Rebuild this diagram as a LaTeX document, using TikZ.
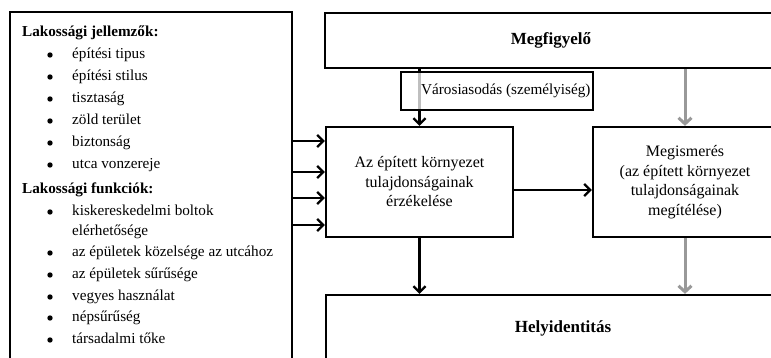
\documentclass[tikz,border=0pt]{standalone}
\usepackage{fontspec}
\setmainfont{Liberation Serif}
\usetikzlibrary{arrows.meta}
\tikzstyle{box}=[draw, line width=2.3pt, inner sep=0pt, align=center, font=\fontsize{16}{19.5}\selectfont]
\tikzstyle{title}=[font=\fontsize{17}{20}\selectfont\bfseries]
\tikzstyle{item}=[anchor=west, inner sep=0pt, text height=10pt, text depth=3pt, font=\fontsize{15.2}{18}\selectfont]
\tikzstyle{flow}=[line width=2.3pt, -{Straight Barb[length=6pt, width=12pt]}]
\tikzstyle{grey flow}=[line width=3pt, draw=black!40, -{Straight Barb[length=6pt, width=13pt]}]

\begin{document}
\begin{tikzpicture}[x=1pt, y=-1pt]
      \useasboundingbox (0, 0) rectangle (771, 358);
      \clip (0, 0) rectangle (771, 358);
      % left panel
      \node[draw, line width=2.3pt, minimum width=282pt, minimum height=360pt] (lakos) at (151, 192) {};
      \node[item, font=\fontsize{15.2}{18}\selectfont\bfseries] (jell) at (22, 33) {Lakossági jellemzők:};
      \foreach \txt/\y [count=\i] in {építési tipus/55, építési stilus/77, tisztaság/99,
          zöld terület/121, biztonság/143, utca vonzereje/165} {
        \node[item] (jell\i) at (72, \y) {\txt};
        \fill (50, \y) circle (2.7pt);
      }
      \node[item, font=\fontsize{15.2}{18}\selectfont\bfseries] (funk) at (22, 190) {Lakossági funkciók:};
      \foreach \txt/\y [count=\i] in {kiskereskedelmi boltok/212, az épületek közelsége az utcához/253,
          az épületek sűrűsége/275, vegyes használat/297, népsűrűség/318, társadalmi tőke/340} {
        \node[item] (funk\i) at (72, \y) {\txt};
        \fill (50, \y) circle (2.7pt);
      }
      \node[item] (funk1b) at (72, 232) {elérhetősége};
      % right side
      \node[box, minimum width=452pt, minimum height=55pt] (megf) at (551, 40.5) {};
      \node[title] at (megf) {Megfigyelő};
      \node[box, minimum width=187pt, minimum height=110pt] (erz) at (419.5, 182)
        {Az épített környezet\\tulajdonságainak\\érzékelése};
      \node[box, minimum width=184pt, minimum height=110pt] (megism) at (685, 182)
        {Megismerés\\(az épített környezet\\tulajdonságainak\\megítélése)};
      \node[box, minimum width=474pt, minimum height=66pt] (helyid) at (563, 328) {};
      \node[title] at (helyid) {Helyidentitás};
      \draw[flow] (erz.north |- megf.south) to (erz.north);
      \node[box, fill=white, fill opacity=0.75, minimum width=192pt, minimum height=38pt] (varos) at (497, 91) {};
      \node[item] (varostxt) at (421, 91) {Városiasodás (személyiség)};
      \draw[grey flow] (megism.north |- megf.south) to (megism.north);
      \foreach \y in {141, 172, 198, 225}
        \draw[flow] (lakos.east |- 0, \y) to (erz.west |- 0, \y);
      \draw[flow] (erz.east |- 0, 190) to (megism.west |- 0, 190);
      \draw[flow] (erz.south) to (erz.south |- helyid.north);
      \draw[grey flow] (megism.south) to (megism.south |- helyid.north);
    \end{tikzpicture}
\end{document}
